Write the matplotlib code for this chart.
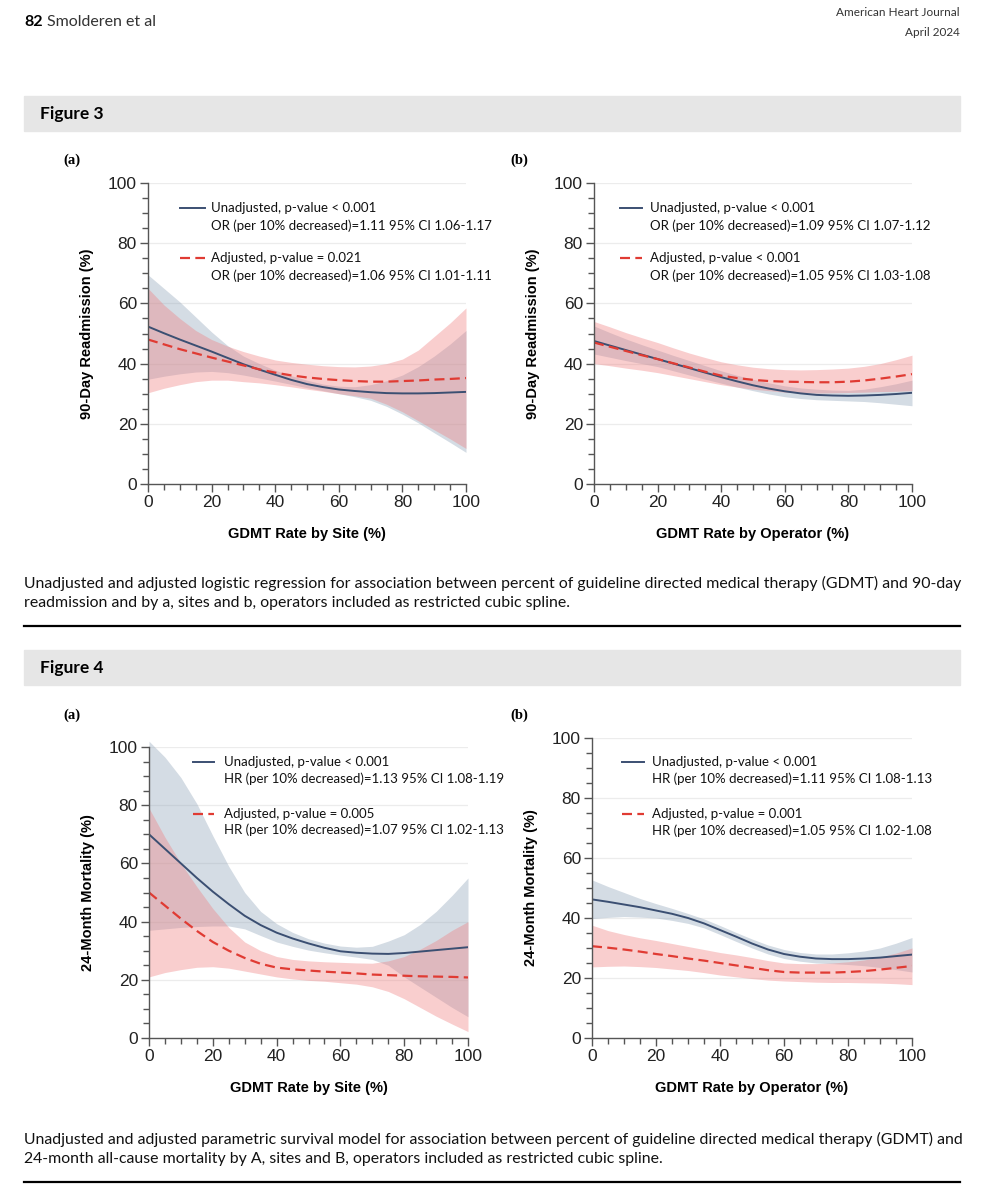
import matplotlib
matplotlib.use("Agg")
import matplotlib.pyplot as plt
from matplotlib.patches import Rectangle
from matplotlib.lines import Line2D
from matplotlib.ticker import MultipleLocator

# GDMT rate grid (%) shared by all panels
gdmt = [0, 5, 10, 15, 20, 25, 30, 35, 40, 45, 50, 55, 60, 65, 70, 75, 80, 85, 90, 95, 100]

# Figure 3a - 90-day readmission by site
f3a_unadj = [52.3, 50.1, 48.0, 46.0, 44.0, 41.9, 39.8, 38.0, 36.3, 34.6, 33.2,
             32.2, 31.4, 30.9, 30.5, 30.2, 30.1, 30.1, 30.2, 30.4, 30.6]
f3a_unadj_hi = [69.5, 65.0, 60.5, 55.5, 50.5, 46.0, 42.5, 40.0, 37.8, 36.0, 34.5,
                33.2, 32.5, 32.3, 33.0, 34.3, 36.2, 39.0, 42.5, 46.5, 51.0]
f3a_unadj_lo = [34.8, 35.8, 36.6, 37.2, 37.4, 37.0, 36.2, 35.2, 34.2, 33.1, 32.0,
                31.0, 30.0, 29.0, 27.8, 25.8, 23.2, 20.3, 17.0, 13.8, 10.5]
f3a_adj = [48.0, 46.4, 44.8, 43.4, 42.0, 40.7, 39.4, 38.1, 37.0, 36.1, 35.4,
           34.9, 34.5, 34.2, 34.0, 34.0, 34.2, 34.4, 34.7, 34.9, 35.2]
f3a_adj_hi = [65.0, 59.5, 55.0, 51.0, 48.0, 45.8, 44.0, 42.5, 41.2, 40.4, 39.8,
              39.3, 39.0, 38.9, 39.2, 40.0, 41.5, 44.5, 49.0, 53.5, 58.5]
f3a_adj_lo = [30.3, 31.8, 33.0, 34.0, 34.5, 34.5, 34.0, 33.6, 33.0, 32.3, 31.5,
              30.8, 30.0, 29.3, 28.5, 26.5, 24.0, 21.0, 18.0, 15.0, 11.8]

# Figure 3b - 90-day readmission by operator
f3b_unadj = [47.5, 46.0, 44.5, 43.0, 41.5, 40.0, 38.5, 37.0, 35.5, 34.1, 32.8,
             31.7, 30.8, 30.1, 29.6, 29.4, 29.3, 29.4, 29.6, 29.9, 30.3]
f3b_unadj_hi = [52.5, 50.3, 48.2, 46.3, 44.5, 42.7, 41.0, 39.3, 37.6, 36.1, 34.8,
                33.6, 32.6, 31.9, 31.5, 31.2, 31.1, 31.5, 32.3, 33.3, 34.5]
f3b_unadj_lo = [43.2, 42.1, 41.0, 40.0, 39.0, 37.6, 36.2, 34.8, 33.5, 32.2, 31.0,
                29.9, 29.0, 28.4, 28.0, 27.8, 27.6, 27.4, 27.0, 26.5, 26.0]
f3b_adj = [47.0, 45.6, 44.2, 42.8, 41.5, 40.1, 38.7, 37.3, 36.0, 35.2, 34.6,
           34.2, 34.0, 33.9, 33.8, 33.8, 34.0, 34.4, 35.0, 35.7, 36.5]
f3b_adj_hi = [54.0, 52.2, 50.3, 48.6, 47.0, 45.2, 43.5, 42.0, 40.6, 39.6, 38.8,
              38.3, 38.0, 37.9, 38.0, 38.2, 38.5, 39.1, 40.0, 41.3, 42.8]
f3b_adj_lo = [40.0, 39.3, 38.5, 37.8, 37.0, 36.0, 35.0, 34.0, 33.0, 32.2, 31.5,
              31.0, 30.5, 30.3, 30.2, 30.3, 30.4, 30.5, 30.7, 30.8, 31.0]

# Figure 4a - 24-month mortality by site
f4a_unadj = [70.0, 65.0, 60.0, 55.0, 50.3, 46.0, 42.0, 38.8, 36.2, 34.2, 32.5,
             31.0, 29.8, 29.3, 29.0, 28.9, 29.2, 29.7, 30.2, 30.7, 31.2]
f4a_unadj_hi = [102.0, 96.5, 89.5, 80.5, 69.5, 59.0, 50.0, 43.5, 39.3, 36.3, 34.1,
                32.6, 31.6, 31.2, 31.5, 33.3, 35.5, 39.0, 43.5, 49.0, 55.0]
f4a_unadj_lo = [37.0, 37.5, 38.0, 38.3, 38.5, 38.5, 37.5, 35.2, 33.0, 31.5, 30.2,
                29.3, 28.5, 27.8, 27.0, 25.0, 21.0, 17.5, 14.0, 10.5, 7.3]
f4a_adj = [50.0, 45.5, 41.0, 36.8, 33.0, 30.0, 27.5, 25.5, 24.2, 23.6, 23.2,
           22.8, 22.5, 22.2, 21.8, 21.6, 21.4, 21.2, 21.1, 21.0, 20.8]
f4a_adj_hi = [79.0, 69.0, 60.0, 52.0, 44.5, 38.0, 33.0, 30.0, 28.0, 27.0, 26.5,
              26.2, 26.0, 25.8, 25.7, 26.5, 28.0, 30.5, 33.5, 37.0, 40.0]
f4a_adj_lo = [21.0, 22.5, 23.5, 24.3, 24.5, 24.0, 23.0, 22.0, 21.0, 20.3, 19.8,
              19.5, 19.0, 18.5, 17.6, 16.0, 13.5, 10.5, 7.5, 4.8, 2.2]

# Figure 4b - 24-month mortality by operator
f4b_unadj = [46.2, 45.4, 44.5, 43.6, 42.5, 41.4, 40.0, 38.2, 36.0, 33.8, 31.5,
             29.5, 28.0, 27.1, 26.5, 26.3, 26.3, 26.5, 26.8, 27.3, 27.8]
f4b_unadj_hi = [52.7, 50.5, 48.5, 46.5, 44.8, 43.2, 41.5, 39.7, 37.5, 35.2, 33.0,
                31.0, 29.5, 28.5, 28.0, 28.0, 28.4, 29.0, 30.0, 31.6, 33.5]
f4b_unadj_lo = [39.8, 40.2, 40.5, 40.3, 40.0, 39.2, 38.2, 36.7, 34.5, 32.2, 30.0,
                28.0, 26.5, 25.6, 25.0, 24.8, 24.5, 24.1, 23.5, 22.8, 22.0]
f4b_adj = [30.6, 30.1, 29.5, 28.8, 28.0, 27.3, 26.5, 25.8, 25.0, 24.2, 23.4,
           22.6, 22.0, 21.8, 21.8, 21.8, 22.0, 22.3, 22.8, 23.4, 24.0]
f4b_adj_hi = [37.6, 35.8, 34.5, 33.4, 32.5, 31.5, 30.5, 29.5, 28.5, 27.7, 26.8,
              25.8, 25.0, 24.8, 24.8, 25.0, 25.4, 26.0, 27.0, 28.3, 30.0]
f4b_adj_lo = [23.7, 23.9, 24.0, 23.8, 23.5, 23.0, 22.5, 21.8, 21.0, 20.4, 19.8,
              19.3, 19.0, 18.8, 18.6, 18.5, 18.5, 18.4, 18.3, 18.1, 17.8]

legend_3a = ["Unadjusted, p-value < 0.001", "OR (per 10% decreased)=1.11 95% CI 1.06-1.17",
             "Adjusted, p-value = 0.021", "OR (per 10% decreased)=1.06 95% CI 1.01-1.11"]
legend_3b = ["Unadjusted, p-value < 0.001", "OR (per 10% decreased)=1.09 95% CI 1.07-1.12",
             "Adjusted, p-value < 0.001", "OR (per 10% decreased)=1.05 95% CI 1.03-1.08"]
legend_4a = ["Unadjusted, p-value < 0.001", "HR (per 10% decreased)=1.13 95% CI 1.08-1.19",
             "Adjusted, p-value = 0.005", "HR (per 10% decreased)=1.07 95% CI 1.02-1.13"]
legend_4b = ["Unadjusted, p-value < 0.001", "HR (per 10% decreased)=1.11 95% CI 1.08-1.13",
             "Adjusted, p-value = 0.001", "HR (per 10% decreased)=1.05 95% CI 1.02-1.08"]

NAVY = "#3b4f72"
RED = "#e03b33"
GRAY_BAND = "#8fa3b8"
PINK_BAND = "#f07f80"
SPINE = "#555555"
SANS = "Liberation Sans"
LEG = "Lato"
PAGE = "Lato"
DASH = (4.5, 2.4)

fig = plt.figure(figsize=(9.84, 12), dpi=100)
W, H = 984, 1200


def fx(px):
    return px / W


def fy(py):
    return 1 - py / H


def panel(rect, unadj, u_hi, u_lo, adj, a_hi, a_lo, legend, leg_x, leg_y, ylabel, xlabel):
    ax = fig.add_axes(rect)
    ax.fill_between(gdmt, u_lo, u_hi, color=GRAY_BAND, alpha=0.38, lw=0, clip_on=False)
    ax.fill_between(gdmt, a_lo, a_hi, color=PINK_BAND, alpha=0.38, lw=0, clip_on=False)
    ax.plot(gdmt, unadj, color=NAVY, lw=1.4)
    ax.plot(gdmt, adj, color=RED, lw=1.6, dashes=DASH)
    ax.set_xlim(0, 100)
    ax.set_ylim(0, 100)
    ax.xaxis.set_major_locator(MultipleLocator(20))
    ax.xaxis.set_minor_locator(MultipleLocator(5))
    ax.yaxis.set_major_locator(MultipleLocator(20))
    ax.yaxis.set_minor_locator(MultipleLocator(5))
    for y in [20, 40, 60, 80, 100]:
        ax.axhline(y, color="#ececec", lw=0.9, zorder=0)
    for s in ["top", "right"]:
        ax.spines[s].set_visible(False)
    for s in ["left", "bottom"]:
        ax.spines[s].set_color(SPINE)
        ax.spines[s].set_linewidth(1.0)
    ax.tick_params(which="major", length=6, width=1.0, color=SPINE, labelsize=12.5,
                   labelcolor="#222222", pad=2)
    ax.tick_params(which="minor", length=4, width=1.0, color=SPINE)
    for lab in ax.get_xticklabels() + ax.get_yticklabels():
        lab.set_fontfamily(SANS)
    ax.set_ylabel(ylabel, fontfamily=SANS, fontweight="bold", fontsize=10.5, labelpad=10)
    ax.set_xlabel(xlabel, fontfamily=SANS, fontweight="bold", fontsize=10.5, labelpad=12)

    # legend drawn by hand so the handle sits beside the first line of each entry
    x0, x1, xt = leg_x
    ax.add_line(Line2D([x0, x1], [leg_y[0], leg_y[0]], transform=ax.transAxes,
                       color=NAVY, lw=1.4))
    ax.add_line(Line2D([x0, x1], [leg_y[2], leg_y[2]], transform=ax.transAxes,
                       color=RED, lw=1.6, dashes=DASH))
    for txt, y in zip(legend, leg_y):
        ax.text(xt, y, txt, transform=ax.transAxes, fontfamily=LEG, fontsize=9.5,
                va="center", ha="left", color="#111111")
    return ax


# page header
fig.text(fx(24), fy(22), "82", fontfamily=PAGE, fontweight="bold", fontsize=11.5, va="center")
fig.text(fx(47), fy(22), "Smolderen et al", fontfamily=PAGE, fontsize=11.5, va="center",
         color="#333333")
fig.text(fx(960), fy(13), "American Heart Journal", fontfamily=PAGE, fontsize=8.5,
         va="center", ha="right", color="#333333")
fig.text(fx(960), fy(33), "April 2024", fontfamily=PAGE, fontsize=8.5, va="center",
         ha="right", color="#333333")

# figure title bands
for top, title in [(96, "Figure 3"), (650, "Figure 4")]:
    fig.patches.append(Rectangle((fx(24), fy(top + 35)), fx(936), 35 / H,
                                 transform=fig.transFigure, color="#e6e6e6", zorder=0))
    fig.text(fx(40), fy(top + 17.5), title, fontfamily=PAGE, fontweight="bold",
             fontsize=12.5, va="center")

# panel letters
for x, y, s in [(63, 160, "(a)"), (510, 160, "(b)"), (63, 715, "(a)"), (510, 715, "(b)")]:
    fig.text(fx(x), fy(y), s, fontfamily="Liberation Serif", fontweight="bold",
             fontsize=10.5, va="center")

panel([fx(148), fy(484), 318 / W, 301 / H], f3a_unadj, f3a_unadj_hi, f3a_unadj_lo,
      f3a_adj, f3a_adj_hi, f3a_adj_lo, legend_3a, (0.10, 0.18, 0.198),
      [0.917, 0.857, 0.751, 0.691], "90-Day Readmission (%)", "GDMT Rate by Site (%)")
panel([fx(594), fy(484), 318 / W, 301 / H], f3b_unadj, f3b_unadj_hi, f3b_unadj_lo,
      f3b_adj, f3b_adj_hi, f3b_adj_lo, legend_3b, (0.082, 0.15, 0.176),
      [0.917, 0.857, 0.751, 0.691], "90-Day Readmission (%)", "GDMT Rate by Operator (%)")
panel([fx(149), fy(1038), 319 / W, 291 / H], f4a_unadj, f4a_unadj_hi, f4a_unadj_lo,
      f4a_adj, f4a_adj_hi, f4a_adj_lo, legend_4a, (0.138, 0.204, 0.235),
      [0.948, 0.890, 0.770, 0.715], "24-Month Mortality (%)", "GDMT Rate by Site (%)")
panel([fx(592), fy(1038), 320 / W, 300 / H], f4b_unadj, f4b_unadj_hi, f4b_unadj_lo,
      f4b_adj, f4b_adj_hi, f4b_adj_lo, legend_4b, (0.094, 0.163, 0.1875),
      [0.920, 0.863, 0.747, 0.690], "24-Month Mortality (%)", "GDMT Rate by Operator (%)")

# captions
cap3 = ["Unadjusted and adjusted logistic regression for association between percent of guideline directed medical therapy (GDMT) and 90-day",
        "readmission and by a, sites and b, operators included as restricted cubic spline."]
cap4 = ["Unadjusted and adjusted parametric survival model for association between percent of guideline directed medical therapy (GDMT) and",
        "24-month all-cause mortality by A, sites and B, operators included as restricted cubic spline."]
for lines, y0 in [(cap3, 583), (cap4, 1139)]:
    for i, line in enumerate(lines):
        fig.text(fx(24), fy(y0 + 20 * i), line, fontfamily=PAGE, fontsize=11.4, va="center",
                 color="#111111")

# rules under captions
for y in [626, 1182]:
    fig.add_artist(Line2D([fx(24), fx(960)], [fy(y), fy(y)], transform=fig.transFigure,
                          color="black", lw=1.6))

fig.savefig("out.png", dpi=100)
